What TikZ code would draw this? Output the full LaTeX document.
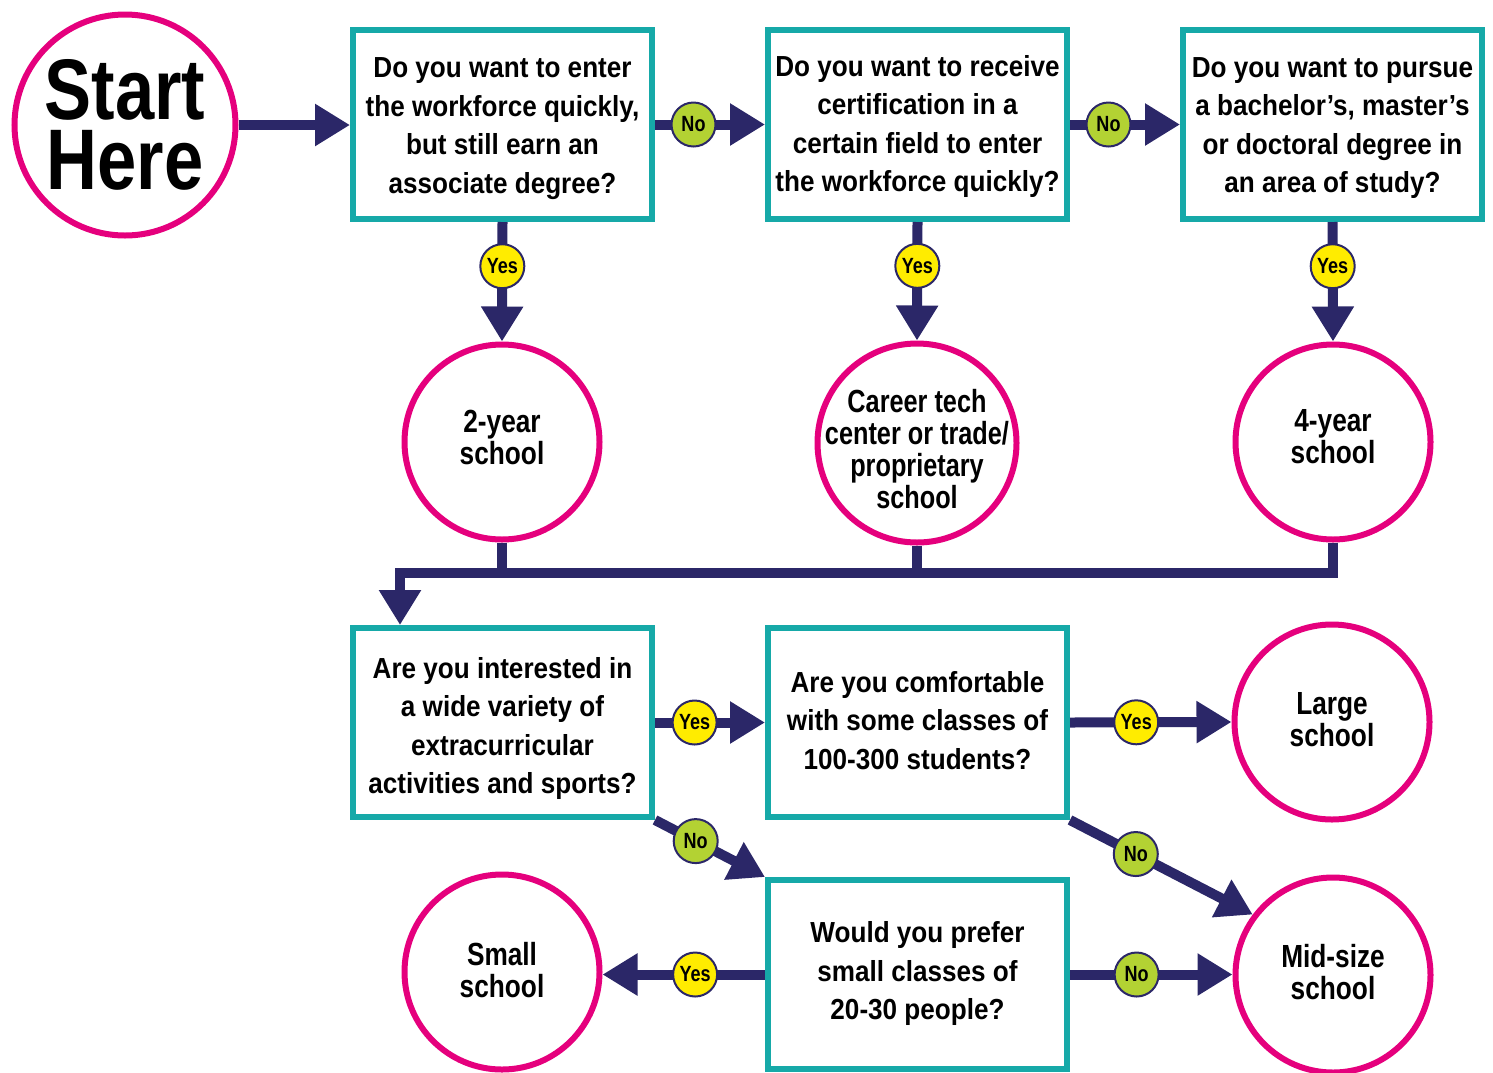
\documentclass[tikz,border=0pt]{standalone}
\usepackage{fontspec}
\setmainfont{Liberation Sans}
\newfontfamily\boxf{Liberation Sans}[FakeStretch=0.9]
\newfontfamily\circf{Liberation Sans}[FakeStretch=0.82]
\newfontfamily\circg{Liberation Sans}[FakeStretch=0.79]
\usetikzlibrary{arrows.meta}
\definecolor{pinkc}{HTML}{E5007D}
\definecolor{tealc}{HTML}{16A9A8}
\definecolor{navyc}{HTML}{2B2768}
\definecolor{yesc}{HTML}{FFEC00}
\definecolor{noc}{HTML}{B3D233}
\begin{document}
\begin{tikzpicture}[x=1pt,y=-1pt,
  qbox/.style={draw=tealc,line width=6pt,minimum width=299pt,minimum height=189pt,inner sep=0pt},
  qtext/.style={align=center,inner sep=0pt,font=\boxf\bfseries\fontsize{29}{38.5}\selectfont},
  endc/.style={circle,draw=pinkc,line width=6pt,minimum size=195pt,inner sep=0pt},
  ctext/.style={align=center,inner sep=0pt,font=\circf\bfseries\fontsize{32}{32}\selectfont},
  badge/.style={circle,draw=navyc,line width=2pt,minimum size=44pt,inner sep=0pt,
    font=\circf\bfseries\fontsize{22}{22}\selectfont},
  yesb/.style={badge,fill=yesc},
  nob/.style={badge,fill=noc},
  lnk/.style={draw=navyc,line width=10pt,line join=miter},
  arr/.style={lnk,-{Triangle[length=35pt,width=40pt]}}
]
\useasboundingbox (0,0) rectangle (1493,1072);

% start
\node[circle,draw=pinkc,line width=6pt,minimum size=221pt,inner sep=0pt,align=center,
  font=\circf\bfseries\fontsize{86}{70}\selectfont] (start) at (125,125) {Start\\Here};

% question boxes
\node[qbox,label={[qtext,yshift=-4pt]center:{Do you want to enter\\the workforce quickly,\\but still earn an\\associate degree?}}] (b1) at (502.5,124.5) {};
\node[qbox,label={[qtext,yshift=-2pt]center:{Do you want to receive\\certification in a\\certain field to enter\\the workforce quickly?}}] (b2) at (917.5,124.5) {};
\node[qbox,label={[qtext,yshift=-3.5pt]center:{Do you want to pursue\\a bachelor’s, master’s\\or doctoral degree in\\an area of study?}}] (b3) at (1332.5,124.5) {};
\node[qbox,label={[qtext,yshift=-6pt]center:{Are you interested in\\a wide variety of\\extracurricular\\activities and sports?}}] (b4) at (502.5,722.5) {};
\node[qbox,label={[qtext,yshift=2pt]center:{Are you comfortable\\with some classes of\\100-300 students?}}] (b5) at (917.5,722.5) {};
\node[qbox,label={[qtext,yshift=1pt]center:{Would you prefer\\small classes of\\20-30 people?}}] (b6) at (917.5,974.5) {};

% end circles
\node[endc,label={[ctext,yshift=5pt]center:{2-year\\school}}] (c1) at (502,442) {};
\node[endc,minimum size=199pt,label={[ctext,font=\circg\bfseries\fontsize{32}{32}\selectfont,yshift=-6pt]center:{Career tech\\center or trade/\\proprietary\\school}}] (c2) at (917,443) {};
\node[endc,label={[ctext,yshift=5pt]center:{4-year\\school}}] (c3) at (1333,442) {};
\node[endc,label={[ctext,yshift=2pt]center:{Large\\school}}] (large) at (1332,722) {};
\node[endc,label={[ctext,yshift=3pt]center:{Mid-size\\school}}] (mid) at (1333,975) {};
\node[endc,label={[ctext,yshift=2pt]center:{Small\\school}}] (small) at (502,972) {};

% connectors
\draw[arr] (start.east) -- (b1.west |- start.east);
\draw[arr] (b1.east) -- (b2.west) node[nob,pos=0.35] (n1) {No};
\draw[arr] (b2.east) -- (b3.west) node[nob,pos=0.35] (n2) {No};
\draw[arr] (b1.south) -- (c1.north) node[yesb,pos=0.37] (y1) {Yes};
\draw[arr] (b2.south) -- (c2.north) node[yesb,pos=0.37] (y2) {Yes};
\draw[arr] (b3.south) -- (c3.north) node[yesb,pos=0.37] (y3) {Yes};

\coordinate (j) at (400,573);
\draw[lnk] (c1.south) -- (c1.south |- j);
\draw[lnk] (c2.south) -- (c2.south |- j);
\draw[arr] (c3.south) |- (j) -- (j |- b4.north);

\draw[arr] (b4.east) -- (b5.west) node[yesb,pos=0.36] (y4) {Yes};
\draw[arr] (b5.east) -- (large.west) node[yesb,pos=0.41] (y5) {Yes};
\draw[arr] (b4.south east) -- (b6.north west) node[nob,pos=0.37] (n3) {No};
\draw[arr] (b5.south east) -- (mid.143) node[nob,pos=0.36] (n4) {No};
\draw[arr] (b6.west) -- (small.east |- b6.west) node[yesb,pos=0.43] (y6) {Yes};
\draw[arr] (b6.east) -- (mid.west |- b6.east) node[nob,pos=0.41] (n5) {No};
\end{tikzpicture}
\end{document}
